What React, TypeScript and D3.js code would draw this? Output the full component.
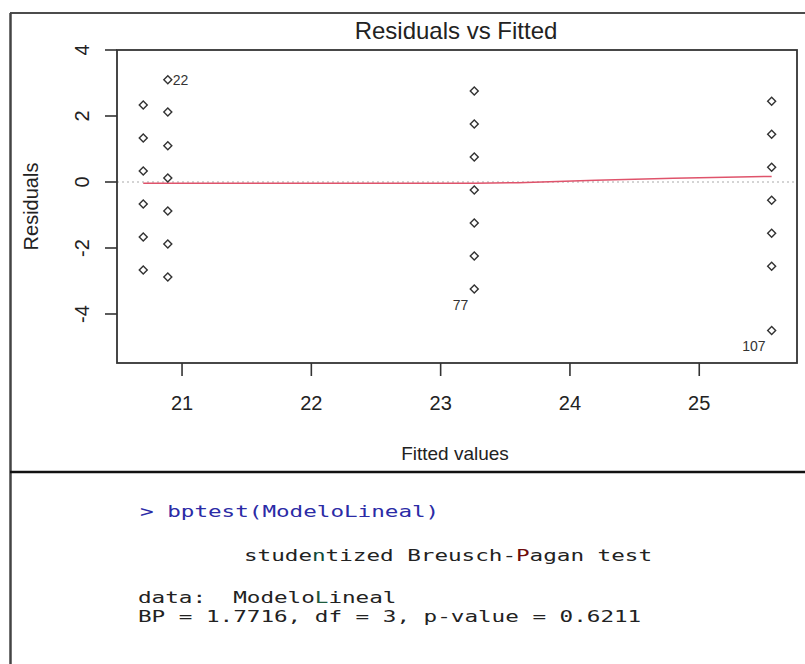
import React from 'react'
import * as d3 from 'd3'

const fitted = [
  20.7, 20.7, 20.7, 20.7, 20.7, 20.7,
  20.89, 20.89, 20.89, 20.89, 20.89, 20.89, 20.89,
  23.26, 23.26, 23.26, 23.26, 23.26, 23.26, 23.26,
  25.56, 25.56, 25.56, 25.56, 25.56, 25.56, 25.56,
]
const residuals = [
  2.33, 1.33, 0.33, -0.67, -1.67, -2.67,
  3.1, 2.12, 1.1, 0.12, -0.88, -1.88, -2.88,
  2.76, 1.76, 0.76, -0.24, -1.24, -2.24, -3.24,
  2.45, 1.45, 0.45, -0.55, -1.55, -2.55, -4.5,
]
// observations flagged with their row number
const flagged = [
  { index: 6, label: '22', side: 'right' },
  { index: 19, label: '77', side: 'below' },
  { index: 26, label: '107', side: 'below' },
]
// lowess smoother through the residuals
const smoothX = [20.7, 23.26, 23.6, 24.2, 24.8, 25.56]
const smoothY = [-0.04, -0.04, -0.02, 0.05, 0.11, 0.17]

const xTicks = [21, 22, 23, 24, 25]
const yTicks = [-4, -2, 0, 2, 4]

const consoleLines = [
  { parts: [{ t: '> bptest(ModeloLineal)', c: '#2b2ba6' }], x: 140, y: 517 },
  {
    parts: [
      { t: 'stude', c: '#222' },
      { t: 'n', c: '#0e4a3a' },
      { t: 'tized Breusch-', c: '#222' },
      { t: 'P', c: '#6e0b0b' },
      { t: 'agan test', c: '#222' },
    ],
    x: 244,
    y: 561,
  },
  {
    parts: [
      { t: 'data:  Modelo', c: '#222' },
      { t: 'L', c: '#1d5a3c' },
      { t: 'ineal', c: '#222' },
    ],
    x: 138,
    y: 603,
  },
  { parts: [{ t: 'BP = 1.7716, df = 3, p-value = 0.6211', c: '#222' }], x: 138, y: 622 },
]

const W = 805
const H = 664
const plot = { left: 117, right: 797, top: 50, bottom: 363 }
const charW = 13.6

const App = () => {
  const x = d3.scaleLinear().domain([20.497, 25.756]).range([plot.left, plot.right])
  const y = d3.scaleLinear().domain([-5.485, 4.0]).range([plot.bottom, plot.top])

  const smooth = d3
    .line<number>()
    .x((d) => x(d))
    .y((_, i) => y(smoothY[i]))(smoothX)

  const diamond = d3.symbol(d3.symbolSquare, 32)()

  const sans = 'Liberation Sans, Arial, sans-serif'
  const mono = 'DejaVu Sans Mono, monospace'

  return (
    <svg
      width={W}
      height={H}
      style={{ position: 'absolute', left: 0, top: 0, background: '#fff' }}
    >
      {/* window frame */}
      <line x1={10} x2={W} y1={13} y2={13} stroke='#111' strokeWidth={1.5} />
      <line x1={10.5} x2={10.5} y1={13} y2={H} stroke='#444' strokeWidth={2.5} />
      <line x1={10} x2={W} y1={472} y2={472} stroke='#111' strokeWidth={2.5} />

      <text
        x={456}
        y={39}
        textAnchor='middle'
        fontFamily={sans}
        fontSize={24}
        fill='#222'
      >
        Residuals vs Fitted
      </text>

      {/* reference line at zero */}
      <line
        x1={plot.left}
        x2={plot.right}
        y1={y(0)}
        y2={y(0)}
        stroke='#aaa'
        strokeWidth={1.2}
        strokeDasharray='2,3'
      />
      <path d={smooth ?? ''} fill='none' stroke='#df536b' strokeWidth={1.5} />

      {fitted.map((f, i) => (
        <path
          key={i}
          d={diamond ?? ''}
          transform={`translate(${x(f)},${y(residuals[i])}) rotate(45)`}
          fill='none'
          stroke='#333'
          strokeWidth={1.4}
        />
      ))}

      {flagged.map((p) => {
        const px = x(fitted[p.index])
        const py = y(residuals[p.index])
        return p.side === 'right' ? (
          <text
            key={p.label}
            x={px + 5}
            y={py + 5}
            fontFamily={sans}
            fontSize={14}
            fill='#333'
          >
            {p.label}
          </text>
        ) : (
          <text
            key={p.label}
            x={px - 6}
            y={py + 21}
            textAnchor='end'
            fontFamily={sans}
            fontSize={14}
            fill='#333'
          >
            {p.label}
          </text>
        )
      })}

      <rect
        x={plot.left}
        y={plot.top}
        width={plot.right - plot.left}
        height={plot.bottom - plot.top}
        fill='none'
        stroke='#333'
        strokeWidth={1.8}
      />

      {xTicks.map((t) => (
        <g key={t} transform={`translate(${x(t)},0)`}>
          <line y1={plot.bottom} y2={plot.bottom + 13} stroke='#333' strokeWidth={1.6} />
          <text
            y={plot.bottom + 47}
            textAnchor='middle'
            fontFamily={sans}
            fontSize={20}
            fill='#222'
          >
            {t}
          </text>
        </g>
      ))}

      {yTicks.map((t) => (
        <g key={t} transform={`translate(0,${y(t)})`}>
          <line x1={plot.left - 12} x2={plot.left} stroke='#333' strokeWidth={1.6} />
          <text
            transform='translate(89,0) rotate(-90)'
            textAnchor='middle'
            fontFamily={sans}
            fontSize={20}
            fill='#222'
          >
            {t}
          </text>
        </g>
      ))}

      <text
        x={455}
        y={460}
        textAnchor='middle'
        fontFamily={sans}
        fontSize={19}
        fill='#222'
      >
        Fitted values
      </text>
      <text
        transform={`translate(38,${(plot.top + plot.bottom) / 2}) rotate(-90)`}
        textAnchor='middle'
        fontFamily={sans}
        fontSize={20}
        fill='#222'
      >
        Residuals
      </text>

      {consoleLines.map((l, i) => {
        const n = l.parts.reduce((s, p) => s + p.t.length, 0)
        return (
          <text
            key={i}
            x={l.x}
            y={l.y}
            fontFamily={mono}
            fontSize={16}
            textLength={n * charW}
            lengthAdjust='spacingAndGlyphs'
            style={{ whiteSpace: 'pre' }}
          >
            {l.parts.map((p, j) => (
              <tspan key={j} fill={p.c}>
                {p.t}
              </tspan>
            ))}
          </text>
        )
      })}
    </svg>
  )
}

export default App
